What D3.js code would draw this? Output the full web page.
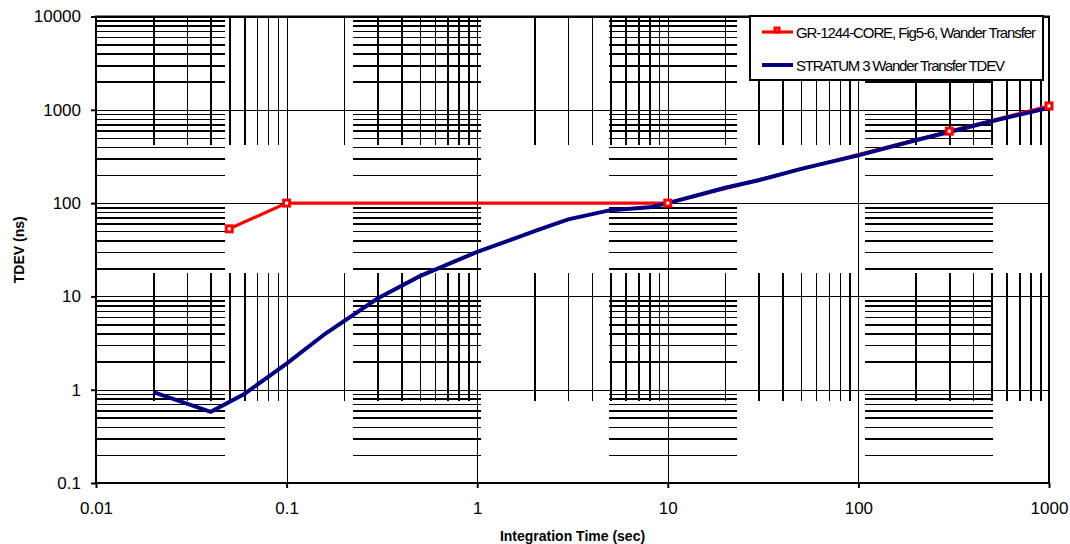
<!DOCTYPE html>
<html>
<head>
<meta charset="utf-8">
<script src="https://cdn.jsdelivr.net/npm/d3@7"></script>
<style>
  body { margin: 0; background: #fff; }
  svg { font-family: "Liberation Sans", Arial, sans-serif; }
</style>
</head>
<body>
<div id="vis"></div>
<script>
const FRAME_WIDTH = 1070;
const FRAME_HEIGHT = 544;
const MARGINS = {left: 96, right: 21, top: 16.5, bottom: 61};

// axis ticks
const X_TICKS = [0.01, 0.1, 1, 10, 100, 1000];
const X_TICK_LABELS = ["0.01", "0.1", "1", "10", "100", "1000"];
const Y_TICKS = [0.1, 1, 10, 100, 1000, 10000];
const Y_TICK_LABELS = ["0.1", "1", "10", "100", "1000", "10000"];

// series
const SERIES_NAMES = ["GR-1244-CORE, Fig5-6, Wander Transfer", "STRATUM 3 Wander Transfer TDEV"];
const GR_TAU = [0.05, 0.1, 10, 300, 1000];
const GR_TDEV = [53, 100, 100, 590, 1100];
const S3_TAU = [0.02, 0.04, 0.06, 0.1, 0.16, 0.3, 0.5, 1, 2, 3, 5, 8, 10, 20, 30, 50, 100, 200, 300, 500, 1000];
const S3_TDEV = [0.94, 0.58, 0.9, 1.9, 4.0, 9.5, 16.5, 30, 50, 67, 84, 90, 100, 146, 176, 233, 325, 472, 578, 755, 1050];

const VIS_WIDTH = FRAME_WIDTH - MARGINS.left - MARGINS.right;
const VIS_HEIGHT = FRAME_HEIGHT - MARGINS.top - MARGINS.bottom;

const FRAME = d3.select("#vis")
  .append("svg")
    .attr("width", FRAME_WIDTH)
    .attr("height", FRAME_HEIGHT);

const X_SCALE = d3.scaleLog().domain([0.01, 1000]).range([0, VIS_WIDTH]);
const Y_SCALE = d3.scaleLog().domain([0.1, 10000]).range([VIS_HEIGHT, 0]);

const PLOT = FRAME.append("g")
  .attr("transform", "translate(" + MARGINS.left + "," + MARGINS.top + ")");

// minor gridlines (2..9 in every decade), drawn dashed like the original
const minorOf = (ticks) => {
  const out = [];
  ticks.slice(0, -1).forEach((d) => {
    for (let k = 2; k <= 9; k++) out.push(d * k);
  });
  return out;
};

PLOT.append("g")
  .attr("class", "minor-x")
  .call(d3.axisTop(X_SCALE).tickValues(minorOf(X_TICKS)).tickSize(-VIS_HEIGHT).tickFormat(""))
  .call((g) => g.select(".domain").remove());

PLOT.append("g")
  .attr("class", "minor-y")
  .call(d3.axisLeft(Y_SCALE).tickValues(minorOf(Y_TICKS)).tickSize(-VIS_WIDTH).tickFormat(""))
  .call((g) => g.select(".domain").remove());

PLOT.selectAll(".minor-x line, .minor-y line")
  .attr("stroke", "#000")
  .attr("stroke-width", 1.6)
  .attr("shape-rendering", "crispEdges")
  .attr("stroke-dasharray", "127.5,128.5")
  .attr("stroke-dashoffset", -1);

// major gridlines
PLOT.append("g")
  .attr("class", "major-x")
  .call(d3.axisTop(X_SCALE).tickValues(X_TICKS).tickSize(-VIS_HEIGHT).tickFormat(""))
  .call((g) => g.select(".domain").remove());

PLOT.append("g")
  .attr("class", "major-y")
  .call(d3.axisLeft(Y_SCALE).tickValues(Y_TICKS).tickSize(-VIS_WIDTH).tickFormat(""))
  .call((g) => g.select(".domain").remove());

PLOT.selectAll(".major-x line, .major-y line")
  .attr("stroke", "#000")
  .attr("stroke-width", 1)
  .attr("shape-rendering", "crispEdges");

// plot border
PLOT.append("rect")
  .attr("x", 0).attr("y", 0)
  .attr("width", VIS_WIDTH).attr("height", VIS_HEIGHT)
  .attr("fill", "none")
  .attr("stroke", "#000")
  .attr("stroke-width", 2);

// axes with labels
PLOT.append("g")
  .attr("transform", "translate(0," + VIS_HEIGHT + ")")
  .call(d3.axisBottom(X_SCALE).tickValues(X_TICKS)
    .tickFormat((d, i) => X_TICK_LABELS[i]).tickSize(5).tickPadding(14))
  .call((g) => g.select(".domain").remove())
  .call((g) => g.selectAll("line").attr("stroke-width", 2))
  .call((g) => g.selectAll("text").attr("font-size", "17px").attr("fill", "#000")
    .attr("font-family", "'Liberation Sans', Arial, sans-serif"));

PLOT.append("g")
  .call(d3.axisLeft(Y_SCALE).tickValues(Y_TICKS)
    .tickFormat((d, i) => Y_TICK_LABELS[i]).tickSize(5).tickPadding(10))
  .call((g) => g.select(".domain").remove())
  .call((g) => g.selectAll("line").attr("stroke-width", 2))
  .call((g) => g.selectAll("text").attr("font-size", "17px").attr("fill", "#000")
    .attr("font-family", "'Liberation Sans', Arial, sans-serif"));

// series
const grData = GR_TAU.map((t, i) => ({t: t, v: GR_TDEV[i]}));
const s3Data = S3_TAU.map((t, i) => ({t: t, v: S3_TDEV[i]}));

const line = d3.line()
  .x((d) => X_SCALE(d.t))
  .y((d) => Y_SCALE(d.v));

PLOT.append("path")
  .datum(grData)
  .attr("d", line)
  .attr("fill", "none")
  .attr("stroke", "#ff0000")
  .attr("stroke-width", 3.2);

PLOT.append("path")
  .datum(s3Data)
  .attr("d", line)
  .attr("fill", "none")
  .attr("stroke", "#000080")
  .attr("stroke-width", 4);

PLOT.selectAll(".gr-marker")
  .data(grData)
  .enter()
  .append("rect")
    .attr("class", "gr-marker")
    .attr("x", (d) => X_SCALE(d.t) - 3)
    .attr("y", (d) => Y_SCALE(d.v) - 3)
    .attr("width", 6)
    .attr("height", 6)
    .attr("fill", "#fff")
    .attr("stroke", "#ff0000")
    .attr("stroke-width", 3);

// axis titles
FRAME.append("text")
  .attr("x", MARGINS.left + VIS_WIDTH / 2)
  .attr("y", 541)
  .attr("text-anchor", "middle")
  .attr("font-size", "14px")
  .attr("font-weight", "bold")
  .text("Integration Time (sec)");

FRAME.append("text")
  .attr("transform", "translate(24," + (MARGINS.top + VIS_HEIGHT / 2) + ") rotate(-90)")
  .attr("text-anchor", "middle")
  .attr("font-size", "14px")
  .attr("font-weight", "bold")
  .text("TDEV (ns)");

// legend
const LEGEND = FRAME.append("g").attr("transform", "translate(750,16)");
LEGEND.append("rect")
  .attr("width", 293).attr("height", 64)
  .attr("fill", "#fff")
  .attr("stroke", "#000")
  .attr("stroke-width", 2);

const legendRows = [
  {name: SERIES_NAMES[0], color: "#ff0000", w: 3.2, marker: true, len: 240},
  {name: SERIES_NAMES[1], color: "#000080", w: 4, marker: false, len: 209}
];

legendRows.forEach((r, i) => {
  const cy = 16 + i * 33;
  LEGEND.append("line")
    .attr("x1", 12).attr("x2", 43)
    .attr("y1", cy).attr("y2", cy)
    .attr("stroke", r.color)
    .attr("stroke-width", r.w);
  if (r.marker) {
    LEGEND.append("rect")
      .attr("x", 25).attr("y", cy - 4)
      .attr("width", 4).attr("height", 4)
      .attr("fill", "#fff")
      .attr("stroke", r.color)
      .attr("stroke-width", 3);
  }
  LEGEND.append("text")
    .attr("x", 46)
    .attr("y", cy + 6)
    .attr("font-size", "15px")
    .attr("textLength", r.len)
    .attr("lengthAdjust", "spacing")
    .text(r.name);
});
</script>
</body>
</html>
